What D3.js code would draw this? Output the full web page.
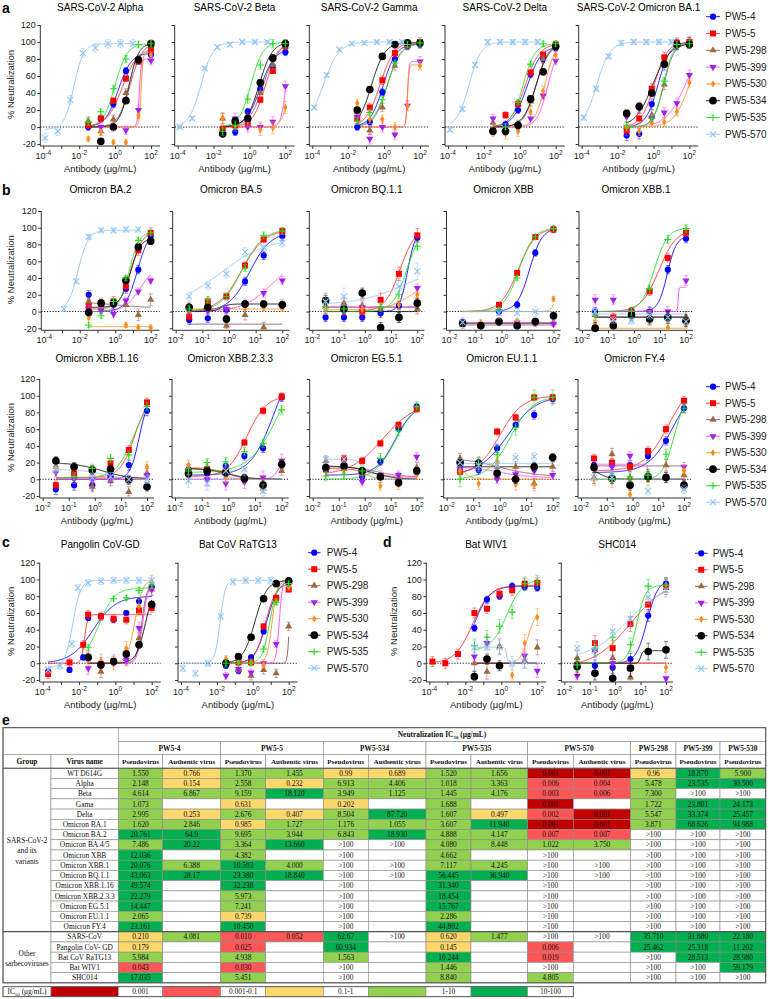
<!DOCTYPE html>
<html>
<head>
<meta charset="utf-8">
<script src="https://d3js.org/d3.v7.min.js"></script>
<style>
  body { margin: 0; background: #fff; }
  svg { font-family: "Liberation Sans", Arial, sans-serif; }
</style>
</head>
<body>
<svg id="fig" width="769" height="999"></svg>
<script>
// ---------- data ----------
var antibodies = ["PW5-4", "PW5-5", "PW5-298", "PW5-399", "PW5-530", "PW5-534", "PW5-535", "PW5-570"];
var conc = [0.032, 0.16, 0.8, 4, 20, 100];
var concLow = [0.000128, 0.00064, 0.0032, 0.016, 0.08, 0.4, 2, 10];
var concBA2 = [0.00128, 0.0064, 0.032, 0.16, 0.8, 4, 20];
var concPang = [0.0002, 0.003, 0.017, 0.032, 0.16, 0.8, 4, 20, 100];
var concPang570 = [0.0002, 0.0009, 0.004, 0.0085, 0.032, 0.16, 0.8, 4, 20, 100];
var concWIV1 = [0.00015, 0.00078, 0.0039, 0.032, 0.16, 0.8, 4, 20, 100];

// y values (% neutralization), one row per antibody in the order above
// fit rows: [IC50, hill, bottom, top]
var alphaY = [[0, 10, 27, 66, 78, 85], [2, 10, 31, 57, 77, 91], [7, -5, 9, 40, 80, 97], [null, 0, 0, -4, 20, 78],
  [-14, -6, -18, -18, 13, 85], [null, -17, 0, 31, 79, 98], [6, 18, 45, 80, 97, 98], [-13, -5, 32, 87, 93, 98, 98, 98]];
var alphaFit = [[1.5, 1.2, 0, 87], [2.5, 1, 0, 93], [6.9, 1.3, 0, 99], [22, 8, 0, 80], [28, 8, 0, 88], [6, 1.6, 0, 99], [1, 1.3, 0, 98], [0.005, 1.6, -3, 98]];
var alphaErr = [4, 3, 5, 5, 3, 3, 4, 5];

var betaY = [[-7, -6, 18, 45, 71, 88], [-2, 2, 6, 32, 66, 95], [10, 6, 11, 40, 73, 97], [null, 10, 0, 0, 6, 48],
  [10, 2, 7, -3, -1, 23], [-8, 7, 10, 52, 81, 98], [-5, 2, 33, 73, 98, 98], [0, 10, 69, 94, 97, 100, 100, 100]];
var betaFit = [[4, 1.1, 0, 92], [8, 1.2, 0, 100], [6, 1.1, 0, 100], [110, 3, 0, 100], [150, 2, 0, 70], [3.5, 1.2, 0, 100], [1.2, 1.3, 0, 100], [0.002, 1.3, 0, 100]];
var betaErr = [4, 3, 6, 6, 7, 4, 5, 2];

var gammaY = [[0, 6, 41, 80, 95, 97], [10, 23, 55, 87, 97, 100], [18, -4, 23, 72, 96, 98], [12, -14, 0, -9, 25, 77],
  [28, 9, 9, 0, 25, 72], [20, 44, 83, 97, 99, 99], [7, 17, 32, 75, 97, 99], [23, 61, 91, 98, 99, 100, 100, 100]];
var gammaFit = [[0.9, 1.2, 0, 98], [0.6, 1.1, 0, 100], [1.5, 1.2, 0, 98], [20, 10, 0, 77], [20, 10, 0, 73], [0.2, 1.2, 0, 99], [1.5, 1.1, 0, 99], [0.00042, 1, 0, 100]];
var gammaErr = [4, 5, 5, 6, 5, 3, 4, 2];

var deltaY = [[-5, 3, 20, 62, 80, 93], [-5, 14, 27, 64, 85, 97], [5, -5, 3, 30, 80, 96], [10, -1, -1, 10, 37, 78],
  [-5, -8, -5, 18, 42, 85], [-5, -5, 2, 33, 65, 95], [null, 0, 29, 74, 98, 98], [-3, 21, 73, 100, 100, 100, 100, 100]];
var deltaFit = [[2.5, 1.1, 0, 95], [2, 1.1, 0, 98], [8, 1.3, 0, 98], [35, 1.5, 0, 95], [25, 1.5, 0, 100], [8, 1.2, 0, 98], [1.5, 1.3, 0, 98], [0.0015, 1.3, 0, 100]];
var deltaErr = [4, 4, 5, 5, 6, 4, 3, 3];

var ba1Y = [[-10, -8, 27, 73, 97, 99], [-4, 10, 45, 82, 99, 100], [0, 23, 14, 50, 97, 99], [12, 22, 10, 17, 28, 61],
  [0, -5, 5, 6, 18, 52], [16, 24, 40, 74, 97, 97], [2, null, 10, 54, 97, 98], [11, 45, 83, 99, 100, 100, 100, 100]];
var ba1Fit = [[1.8, 1.3, 0, 100], [1.1, 1.2, 0, 100], [3.7, 1.5, 0, 99], [60, 0.8, 0, 100], [100, 1, 0, 100], [0.9, 0.9, 0, 99], [3.5, 1.6, 0, 99], [0.0007, 1.2, 0, 100]];
var ba1Err = [6, 6, 6, 6, 5, 4, 4, 3];

var ba2Y = [[20, 8, 8, 27, 50, 90], [7, 10, 12, 30, 73, 94], [12, 5, 9, 8, -4, 14], [3, 1, -3, 13, 24, 37],
  [-7, null, null, -16, -19, -19], [-1, 10, 10, 37, 77, 84], [-16, -5, 12, 40, 85, 94], [3, 36, 89, 97, 97, 98, 98]];
var ba2Fit = [[18, 1.3, 0, 98], [8, 1.3, 3, 97], [1, 0.4, 12, 4], [25, 1, 0, 55], [1, 1, -18, -18], [7, 1.5, 5, 88], [6, 1.5, 0, 96], [0.008, 1.5, 0, 97]];
var ba2Err = [5, 6, 7, 4, 3, 4, 3, 3];

var ba5Y = [[-10, -8, 2, 36, 67, 90], [-6, 12, 18, 55, 86, 96], [5, 5, -17, -4, -19, 8], [1, 1, 3, 10, 22, 37],
  [4, 5, -9, 5, 5, 4], [5, 5, -9, 9, 9, 8], [3, 14, 18, 52, 91, 96], [18, 31, 45, 71, 77, 82]];
var ba5Fit = [[6, 1.1, 0, 95], [3, 1, 0, 98], [1, 1, -15, -15], [40, 0.8, 0, 65], [1, 1, 3, 3], [0.5, 3, 0, 9], [3, 1.1, 0, 98], [0.5, 0.5, 5, 88]];
var ba5Err = [5, 4, 6, 5, 4, 4, 4, 5];

var bq11Y = [[-7, -7, -7, -2, 7, 88], [13, 3, 0, 14, 45, 91], [6, 10, 7, 3, -7, 3], [10, 5, 5, null, null, 28],
  [2, 5, 3, null, 8, 20], [13, 3, 22, -19, -7, 10], [6, 3, null, 5, 20, 78], [12, 18, null, null, 30, 48]];
var bq11Fit = [[42, 3, 0, 95], [22, 1.5, 0, 100], [1, 1, 5, 5], [1, 1, 6, 6], [50, 1, 2, 35], [1, 1, 0, 0], [40, 1.6, 0, 100], [30, 0.5, 8, 55]];
var bq11Err = [5, 8, 6, 5, 5, 6, 5, 10];

var xbbY = [[-13, -17, 0, 8, 70, 98], [null, null, 8, 46, 89, 98], [-16, -17, -12, -14, -14, -13], [-13, -17, -13, -13, -13, -15],
  [-15, -13, -12, -12, -12, 15], [-14, -17, -12, -17, -12, -5], [null, null, 2, 40, 89, 99], [-13, null, -2, -2, 0, null]];
var xbbFit = [[12, 1.8, 0, 100], [4.4, 1.3, 0, 100], [1, 1, -16, -16], [1, 1, -13, -13], [180, 4, 0, 100], [1, 1, -14, -14], [4.7, 1.5, 0, 100], [1, 1, 0, 0]];
var xbbErr = [4, 3, 4, 3, 3, 4, 3, 6];

var xbb1Y = [[0, -15, -1, 0, 50, 87], [-20, -7, 0, 24, 64, 94], [-4, -15, -3, -7, -5, -7], [14, 14, -1, 0, 0, 37],
  [-15, -17, -3, -4, -19, -15], [-20, -17, -4, -9, -7, -11], [-3, null, 0, 27, 86, 99], [0, -10, -11, -5, -7, -12]];
var xbb1Fit = [[19, 2.5, 0, 90], [9, 1.3, 0, 98], [1, 1, -6, -6], [50, 30, 0, 29], [1, 1, -20, -20], [1, 1, -7, -7], [6, 1.7, 0, 100], [1, 1, -3, -3]];
var xbb1Err = [5, 5, 7, 6, 5, 7, 5, 4];

var xbb116Y = [[-12, -7, -7, 4, 17, 82], [-7, 7, 11, 19, 35, 92], [15, null, -9, -2, -15, 7], [8, 0, 0, 0, 0, 5],
  [13, null, null, null, null, 15], [22, 15, 11, 12, -1, -9], [null, 3, 13, 25, 29, 87], [12, null, 2, 3, 0, 0]];
var xbb116Fit = [[50, 2.5, 0, 100], [35, 1.5, 2, 105], [1, 1, 0, 0], [1, 1, 0, 0], [1, 1, 2, 2], [2, 0.8, 20, 0], [30, 1.3, 2, 100], [2, 1, 12, 0]];
var xbb116Err = [6, 5, 6, 5, 6, 5, 5, 5];

var xbb233Y = [[12, 7, 16, 28, 37, 98], [7, 12, 10, 44, 82, 99], [13, 13, 7, 1, -11, 10], [5, 0, -5, -3, 2, 22],
  [17, 13, 2, 0, -6, 19], [7, 10, 8, 1, -7, 18], [10, 20, 21, 33, 43, 83], [-2, -5, 10, 12, -14, null]];
var xbb233Fit = [[50, 1, 5, 150], [5, 1.2, 3, 100], [1, 1.5, 13, 0], [100, 3, 0, 40], [0.5, 2, 14, 0], [1, 1, 13, 0], [80, 0.8, 8, 150], [1, 1, 0, 0]];
var xbb233Err = [5, 4, 5, 8, 6, 5, 5, 8];

var eg51Y = [[14, 17, 3, 21, 61, 87], [12, 25, 22, 43, 65, 84], [22, 12, 7, 2, 2, 14], [10, 13, -3, 5, 5, 27],
  [13, 11, 9, -8, -7, 5], [14, 16, 10, 3, -4, 10], [4, 6, 10, 25, 58, 87], [24, 24, null, null, null, null]];
var eg51Fit = [[15, 1.2, 5, 90], [5, 0.7, 5, 92], [3, 1, 15, 3], [2, 1, 13, 2], [1, 2, 13, 0], [2, 1, 16, 0], [15, 1.1, 0, 92], [1, 3, 24, 0]];
var eg51Err = [4, 4, 6, 5, 5, 4, 6, 4];

var eu11Y = [[17, 11, 37, 65, 77, 96], [9, 18, 57, 74, 98, 98], [25, 20, 15, 15, -5, 15], [12, 15, 0, 6, 10, 5],
  [10, -5, 22, -6, -7, null], [20, 19, 7, 0, 15, 26], [0, 18, 30, 62, 98, 98], [20, 17, 17, 26, 27, null]];
var eu11Fit = [[2, 0.8, 5, 100], [1, 1, 5, 100], [1, 0.6, 26, 3], [1, 0.8, 15, 2], [0.05, 3, 15, 0], [1, 1, 15, 15], [2.5, 1, 0, 100], [1, 1, 19, 19]];
var eu11Err = [5, 4, 6, 5, 7, 5, 9, 5];

var fy4Y = [[17, 17, 17, 28, 46, 85], [25, 20, 15, 34, 60, 94], [2, 30, 2, 5, 17, 5], [15, 15, 28, 3, 3, 15],
  [0, -3, -18, 0, 3, 10], [14, 1, -7, 3, 2, -7], [null, 1, 3, 5, 30, 85], [2, 2, null, -14, null, -12]];
var fy4Fit = [[40, 0.9, 8, 120], [25, 0.9, 10, 120], [1, 1, 16, 16], [4, 20, 18, 0], [1, 1, 0, 0], [0.05, 2, 14, 0], [40, 2, 0, 100], [1, 1, 0, 0]];
var fy4Err = [5, 5, 7, 5, 7, 6, 6, 5];

var pangY = [[-10, -8, 7, 54, 56, 52, 60, 74, 91], [-13, 1, 22, 58, 56, 53, 52, 63, 66], [8, -10, null, 5, 30, 88], [-6, 0, 3, 4, 42, 88],
  [5, 3, 0, 18, 68, 97], [7, -2, 2, 11, 22, 70], [19, null, 77, 78, 87, 93], [-8, -3, 23, 90, 96, 98, 99, 99, 99, 99]];
var pangFit = [[0.06, 0.7, 0, 80], [0.02, 5, 0, 58], [28, 3, 0, 95], [32, 3, 0, 95], [12, 2, 0, 100], [45, 1.7, 0, 95], [0.12, 1, 0, 90], [0.0045, 2, -5, 99]];
var pangErr = [3, 5, 7, 7, 8, 4, 3, 4];

var ratY = [[-3, -9, 7, 38, 78, 99], [0, 1, 1, 44, 78, 88], [0, -8, -15, -8, -12, 44], [-15, -7, -11, 0, 23, 93],
  [5, 2, 1, -2, 73, 91], [0, 8, 31, 77, 95, 98], [0, 0, 0, 17, 73, 95], [-6, -12, 0, 56, 97, 99, 99, 99]];
var ratFit = [[6, 1.3, 0, 100], [5, 1.5, 0, 95], [110, 8, 0, 100], [30, 5, 0, 100], [12, 3, 0, 100], [1.3, 1.3, 0, 99], [9, 2, 0, 100], [0.015, 3, 0, 99]];
var ratErr = [3, 3, 5, 4, 4, 3, 3, 4];

var wivY = [[42, 76, 80, 92, 91, 90], [2, 0, 11, 60, 65, 83, 87, 95, 96], [0, -10, 20, null, 3, 19], [8, 24, null, null, 9, -9],
  [null, null, null, -14, 24, 55], [-16, 5, -3, null, null, null], [21, 31, 44, 61, 95, 97], [19, 19, 19, 0, 2, null]];
var wivFit = [[0.03, 1, 0, 92], [0.025, 0.9, 0, 93], [1, 1, 0, 0], [1, 1, 0, 0], [30, 2, 0, 62], [1, 1, 0, 0], [2, 1, 15, 100], [2, 10, 19, 0]];
var wivErr = [4, 6, 9, 8, 10, 6, 8, 8];

var shcY = [[-1, -3, -5, 5, 57, 95], [-2, 24, 18, 47, 70, 91], [6, 16, 6, -17, null, null], [-15, 15, 0, -5, null, -18],
  [null, null, null, null, null, -5], [-4, -12, -18, -6, 14, 16], [-2, 18, 31, 22, 92, 93], [18, 15, 38, 53, 79, 87]];
var shcFit = [[18, 2, 0, 100], [4, 0.6, -5, 100], [1, 1, 0, 0], [1, 1, 0, 0], [1, 1, 0, 0], [10, 10, 0, 15], [7, 2.5, 0, 93], [3, 0.6, 5, 95]];
var shcErr = [7, 9, 9, 7, 5, 10, 8, 8];

var yTicks = [-20, 0, 20, 40, 60, 80, 100, 120];

// ---------- table data ----------
var virusNames = ["WT D614G", "Alpha", "Beta", "Gama", "Delta", "Omicron BA.1", "Omicron BA.2", "Omicron BA.4/5", "Omicron XBB",
  "Omicron XBB.1", "Omicron BQ.1.1", "Omicron XBB.1.16", "Omicron XBB.2.3.3", "Omicron EG.5.1", "Omicron EU.1.1", "Omicron FY.4",
  "SARS-CoV", "Pangolin CoV- GD", "Bat CoV RaTG13", "Bat WIV1", "SHC014"];
var pw54Pseudo = ["1.550", "2.148", "4.614", "1.073", "2.995", "1.620", "20.761", "7.486", "12.036", "20.076", "43.063", "49.574", "22.279", "14.447", "2.065", "23.161", "0.210", "0.179", "5.984", "0.043", "17.035"];
var pw54Auth = ["0.766", "0.154", "6.867", "", "0.253", "2.846", "64.9", "20.22", "", "6.388", "28.17", "", "", "", "", "", "4.081", "", "", "", ""];
var pw55Pseudo = ["1.370", "2.558", "9.159", "0.631", "2.676", "0.985", "9.695", "3.364", "4.382", "10.593", "23.380", "32.238", "5.973", "7.241", "0.739", "10.450", "0.010", "0.025", "4.938", "0.030", "5.451"];
var pw55Auth = ["1.455", "0.232", "18.120", "", "0.407", "1.727", "3.944", "13.660", "", "4.000", "18.840", "", "", "", "", "", "0.052", "", "", "", ""];
var pw5534Pseudo = ["0.99", "6.913", "3.949", "0.202", "8.504", "1.176", "6.843", ">100", ">100", ">100", ">100", ">100", ">100", ">100", ">100", ">100", "62.67", "60.934", "1.563", ">100", ">100"];
var pw5534Auth = ["0.689", "4.406", "1.125", "", "87.720", "1.055", "18.930", ">100", "", ">100", ">100", "", "", "", "", "", ">100", "", "", "", ""];
var pw5535Pseudo = ["1.520", "1.018", "1.445", "1.688", "1.607", "3.607", "4.888", "4.080", "4.662", "7.117", "56.445", "31.340", "18.454", "15.767", "2.286", "44.802", "0.620", "0.145", "10.244", "1.446", "8.840"];
var pw5535Auth = ["1.656", "3.363", "4.176", "", "0.497", "11.940", "4.147", "8.448", "", "4.245", "36.940", "", "", "", "", "", "1.477", "", "", "", ""];
var pw5570Pseudo = ["0.001", "0.006", "0.003", "0.001", "0.002", "0.001", "0.007", "1.022", ">100", ">100", ">100", ">100", ">100", ">100", ">100", ">100", ">100", "0.006", "0.019", ">100", "4.805"];
var pw5570Auth = ["0.001", "0.004", "0.006", "", "0.001", "0.001", "0.007", "3.750", "", ">100", ">100", "", "", "", "", "", ">100", "", "", "", ""];
var pw5298Pseudo = ["0.96", "5.478", "7.300", "1.722", "5.547", "3.871", ">100", ">100", ">100", ">100", ">100", ">100", ">100", ">100", ">100", ">100", "35.710", "25.462", ">100", ">100", ">100"];
var pw5399Pseudo = ["18.870", "23.535", ">100", "23.801", "33.374", "68.626", ">100", ">100", ">100", ">100", ">100", ">100", ">100", ">100", ">100", ">100", "31.680", "25.318", "28.513", ">100", ">100"];
var pw5530Pseudo = ["5.900", "30.500", ">100", "24.173", "25.457", "94.988", ">100", ">100", ">100", ">100", ">100", ">100", ">100", ">100", ">100", ">100", "22.180", "11.202", "28.980", "59.179", ">100"];
var tableAntibodies = ["PW5-4", "PW5-5", "PW5-534", "PW5-535", "PW5-570", "PW5-298", "PW5-399", "PW5-530"];
var legendRanges = ["0.001", "0.001-0.1", "0.1-1", "1-10", "10-100"];

// ---------- drawing ----------
var svg = d3.select("#fig");
var markColor = ["#0000ff", "#ff0000", "#9b6b3f", "#a020f0", "#ff8c1a", "#000000", "#1fdc1f", "#8fc3f3"];
var lineColor = ["#0000ff", "#ff2a2a", "#8a5060", "#ff44ff", "#ff8c1a", "#000000", "#22dd22", "#8fc3f3"];

function drawMarker(g, i, cx, cy) {
  var t = "translate(" + cx + "," + cy + ")";
  if (i === 6) {
    g.append("path").attr("d", "M-3.5,0H3.5M0,-3.5V3.5").attr("transform", t).attr("stroke", markColor[i]).attr("stroke-width", 1.1);
  } else if (i === 7) {
    g.append("path").attr("d", "M-3,-3L3,3M-3,3L3,-3").attr("transform", t).attr("stroke", markColor[i]).attr("stroke-width", 1.1);
  } else {
    var types = [d3.symbolCircle, d3.symbolSquare, d3.symbolTriangle, d3.symbolTriangle, d3.symbolDiamond, d3.symbolCircle];
    var sizes = [30, 36, 22, 22, 16, 46];
    g.append("path").attr("d", d3.symbol().type(types[i]).size(sizes[i]))
      .attr("transform", t + (i === 3 ? " rotate(180)" : ""))
      .attr("fill", markColor[i]);
  }
}

var rowGeom = {
  a: { yt: 25, yb: 144, title: 11, xtitle: true },
  b1: { yt: 211, yb: 328.3, title: 192.5, xtitle: false },
  b2: { yt: 379, yb: 496, title: 362, xtitle: true },
  c: { yt: 562.7, yb: 680, title: 547.5, xtitle: true }
};

function fitY(f, xv) {
  return f[2] + (f[3] - f[2]) / (1 + Math.pow(f[0] / xv, f[1]));
}

function drawPanel(p) {
  var r = rowGeom[p.row];
  var x = d3.scaleLog().domain([Math.pow(10, p.lo), 100]).range([p.x0, p.x1]);
  var y = d3.scaleLinear().domain([-20, 120]).range([r.yb, r.yt]);
  var axL = p.x0 - 3, axR = p.x1 + (p.lo === -4 ? 9 : 7), axB = r.yb + 2;
  var g = svg.append("g");

  g.append("text").attr("x", (axL + axR) / 2).attr("y", r.title).attr("text-anchor", "middle")
    .attr("font-size", 10).text(p.t);

  // y axis
  var ga = g.append("g").attr("transform", "translate(" + axL + ",0)")
    .call(d3.axisLeft(y).tickValues(yTicks).tickSize(3).tickSizeOuter(0)
      .tickFormat(p.first ? function (d) { return String(d); } : ""));
  ga.select(".domain").remove();
  ga.selectAll("line").attr("stroke", "#333");
  ga.selectAll("text").attr("font-size", 9).attr("font-family", null).attr("fill", "#222").attr("x", -4.5);
  g.append("line").attr("x1", axL).attr("x2", axL).attr("y1", r.yt).attr("y2", axB).attr("stroke", "#333");

  // x axis
  var decs = d3.range(p.lo, 3);
  var gx = g.append("g").attr("transform", "translate(0," + axB + ")")
    .call(d3.axisBottom(x).tickValues(decs.map(function (k) { return Math.pow(10, k); })).tickSize(3).tickSizeOuter(0).tickFormat(""));
  gx.select(".domain").remove();
  gx.selectAll("line").attr("stroke", "#333");
  g.append("line").attr("x1", axL).attr("x2", axR).attr("y1", axB).attr("y2", axB).attr("stroke", "#333");
  decs.forEach(function (k) {
    if (p.lo === -4 && k % 2 !== 0) return;
    var tx = g.append("text").attr("x", x(Math.pow(10, k))).attr("y", r.yb + 15).attr("text-anchor", "middle")
      .attr("font-size", 9).attr("fill", "#222");
    tx.append("tspan").text("10");
    tx.append("tspan").attr("dy", -4).attr("font-size", 6.5).text(String(k));
  });
  if (r.xtitle) {
    g.append("text").attr("x", (axL + axR) / 2).attr("y", r.yb + 28).attr("text-anchor", "middle")
      .attr("font-size", 9.5).attr("fill", "#222").text("Antibody (\u03bcg/mL)");
  }

  // zero line
  g.append("line").attr("x1", axL).attr("x2", axR).attr("y1", y(0)).attr("y2", y(0))
    .attr("stroke", "#000").attr("stroke-width", 0.9).attr("stroke-dasharray", "1.2,1.6");

  var line = d3.line().x(function (d) { return x(d[0]); }).y(function (d) { return y(Math.max(-20, Math.min(120, d[1]))); });

  antibodies.forEach(function (ab, i) {
    var xs = (p.xs && p.xs[i]) || conc;
    var f = p.fit[i];
    var lx = d3.extent(xs).map(Math.log10);
    var samples = d3.range(0, 201).map(function (j) {
      var xv = Math.pow(10, lx[0] + (lx[1] - lx[0]) * j / 200);
      return [xv, fitY(f, xv)];
    });
    g.append("path").attr("d", line(samples)).attr("fill", "none")
      .attr("stroke", lineColor[i]).attr("stroke-width", 0.9);
  });

  antibodies.forEach(function (ab, i) {
    var xs = (p.xs && p.xs[i]) || conc;
    var e = p.err[i];
    var gs = g.append("g");
    p.ys[i].forEach(function (v, j) {
      if (v === null || v === undefined) return;
      var cx = x(xs[j]);
      var lo = y(Math.max(-20, v - e)), hi = y(Math.min(120, v + e));
      gs.append("path").attr("d", "M" + cx + "," + lo + "V" + hi + "M" + (cx - 2) + "," + lo + "H" + (cx + 2) + "M" + (cx - 2) + "," + hi + "H" + (cx + 2))
        .attr("stroke", lineColor[i]).attr("stroke-opacity", 0.55).attr("stroke-width", 0.9).attr("fill", "none");
    });
    p.ys[i].forEach(function (v, j) {
      if (v === null || v === undefined) return;
      drawMarker(gs, i, x(xs[j]), y(v));
    });
  });
}

var low570 = { 7: concLow };
var panels = [
  { t: "SARS-CoV-2 Alpha", ys: alphaY, fit: alphaFit, err: alphaErr, xs: low570, row: "a", x0: 43.3, x1: 151, lo: -4, first: true },
  { t: "SARS-CoV-2 Beta", ys: betaY, fit: betaFit, err: betaErr, xs: low570, row: "a", x0: 177.7, x1: 285.4, lo: -4 },
  { t: "SARS-CoV-2 Gamma", ys: gammaY, fit: gammaFit, err: gammaErr, xs: low570, row: "a", x0: 312.3, x1: 420, lo: -4 },
  { t: "SARS-CoV-2 Delta", ys: deltaY, fit: deltaFit, err: deltaErr, xs: low570, row: "a", x0: 448, x1: 555.7, lo: -4 },
  { t: "SARS-CoV-2 Omicron BA.1", ys: ba1Y, fit: ba1Fit, err: ba1Err, xs: low570, row: "a", x0: 581.7, x1: 689.4, lo: -4 },

  { t: "Omicron BA.2", ys: ba2Y, fit: ba2Fit, err: ba2Err, xs: { 7: concBA2 }, row: "b1", x0: 44.3, x1: 150.7, lo: -4, first: true },
  { t: "Omicron BA.5", ys: ba5Y, fit: ba5Fit, err: ba5Err, row: "b1", x0: 175.7, x1: 282.3, lo: -2 },
  { t: "Omicron BQ.1.1", ys: bq11Y, fit: bq11Fit, err: bq11Err, row: "b1", x0: 312.3, x1: 417.3, lo: -2 },
  { t: "Omicron XBB", ys: xbbY, fit: xbbFit, err: xbbErr, row: "b1", x0: 449.5, x1: 553.5, lo: -2 },
  { t: "Omicron XBB.1", ys: xbb1Y, fit: xbb1Fit, err: xbb1Err, row: "b1", x0: 582, x1: 686, lo: -2 },

  { t: "Omicron XBB.1.16", ys: xbb116Y, fit: xbb116Fit, err: xbb116Err, row: "b2", x0: 42.7, x1: 147, lo: -2, first: true },
  { t: "Omicron XBB.2.3.3", ys: xbb233Y, fit: xbb233Fit, err: xbb233Err, row: "b2", x0: 175, x1: 281.7, lo: -2 },
  { t: "Omicron EG.5.1", ys: eg51Y, fit: eg51Fit, err: eg51Err, row: "b2", x0: 312.7, x1: 416.7, lo: -2 },
  { t: "Omicron EU.1.1", ys: eu11Y, fit: eu11Fit, err: eu11Err, row: "b2", x0: 446.7, x1: 552.7, lo: -2 },
  { t: "Omicron FY.4", ys: fy4Y, fit: fy4Fit, err: fy4Err, row: "b2", x0: 581, x1: 684, lo: -2 },

  { t: "Pangolin CoV-GD", ys: pangY, fit: pangFit, err: pangErr, xs: { 0: concPang, 1: concPang, 7: concPang570 }, row: "c", x0: 42.7, x1: 151.7, lo: -4, first: true },
  { t: "Bat CoV RaTG13", ys: ratY, fit: ratFit, err: ratErr, xs: low570, row: "c", x0: 181, x1: 288.7, lo: -4 },
  { t: "Bat WIV1", ys: wivY, fit: wivFit, err: wivErr, xs: { 1: concWIV1 }, row: "c", x0: 429.3, x1: 537.3, lo: -4, first: true },
  { t: "SHC014", ys: shcY, fit: shcFit, err: shcErr, row: "c", x0: 564.3, x1: 666, lo: -2 }
];
panels.forEach(drawPanel);

// y axis titles
[[13.5, 84.5], [13.5, 269.7], [13.5, 437.5], [13.5, 621.4], [396.5, 621.4]].forEach(function (d) {
  svg.append("text").attr("transform", "translate(" + d[0] + "," + d[1] + ") rotate(-90)")
    .attr("text-anchor", "middle").attr("font-size", 9.5).attr("fill", "#222").text("% Neutralization");
});

// panel letters
[["a", 2, 13], ["b", 2, 195], ["c", 2, 547], ["d", 383, 547], ["e", 2, 725]].forEach(function (d) {
  svg.append("text").attr("x", d[1]).attr("y", d[2]).attr("font-size", 14).attr("font-weight", "bold").text(d[0]);
});

// legends
function drawLegend(lx1, lx2, tx, y0, dy) {
  antibodies.forEach(function (ab, i) {
    var yy = y0 + dy * i;
    var g = svg.append("g");
    g.append("line").attr("x1", lx1).attr("x2", lx2).attr("y1", yy).attr("y2", yy).attr("stroke", lineColor[i]).attr("stroke-width", 0.9);
    drawMarker(g, i, (lx1 + lx2) / 2, yy);
    g.append("text").attr("x", tx).attr("y", yy + 3.5).attr("font-size", 10).attr("fill", "#222").text(ab);
  });
}
drawLegend(706, 720, 725, 16.7, 16.8);
drawLegend(706, 720, 725, 386.7, 16.5);
drawLegend(308, 320.5, 326.7, 552.7, 16.5);
drawLegend(695, 707.5, 712.7, 553.3, 16.5);

// ---------- table ----------
var tableCols = [pw54Pseudo, pw54Auth, pw55Pseudo, pw55Auth, pw5534Pseudo, pw5534Auth, pw5535Pseudo, pw5535Auth,
  pw5570Pseudo, pw5570Auth, pw5298Pseudo, pw5399Pseudo, pw5530Pseudo];
var cx = [3, 51, 118.3, 162.7, 220.7, 265.7, 323.3, 368.3, 426, 471, 527.7, 573.3, 630.7, 676, 720, 765.7];
var tTop = 727.7, h1 = 741.7, h2 = 754.3, h3 = 768.2, rowH = 10.22;
var tb = svg.append("g").attr("font-family", "'Liberation Serif', 'Times New Roman', serif");
var fills = ["#c00000", "#ff5757", "#fbd86c", "#92d050", "#00b050"];

function cellFill(s) {
  if (!s || s.charAt(0) === ">") return "#ffffff";
  var v = +s;
  if (v <= 0.001) return fills[0];
  if (v < 0.1) return fills[1];
  if (v < 1) return fills[2];
  if (v < 10) return fills[3];
  return fills[4];
}
function cell(x1, y1, x2, y2, fill) {
  tb.append("rect").attr("x", x1).attr("y", y1).attr("width", x2 - x1).attr("height", y2 - y1)
    .attr("fill", fill || "#fff").attr("stroke", "#8a8a8a").attr("stroke-width", 0.6);
}
function ctext(x, yc, s, bold, size) {
  return tb.append("text").attr("x", x).attr("y", yc + 2.6).attr("text-anchor", "middle")
    .attr("font-size", size || 7.4).attr("font-weight", bold ? "bold" : null).attr("fill", "#111").text(s);
}

// header
cell(cx[0], tTop, cx[2], h2);
cell(cx[2], tTop, cx[15], h1);
var hdr = ctext((cx[2] + cx[15]) / 2, (tTop + h1) / 2, "", true);
hdr.append("tspan").text("Neutralization IC");
hdr.append("tspan").attr("font-size", 5).attr("dy", 1.5).text("50");
hdr.append("tspan").attr("dy", -1.5).text(" (\u03bcg/mL)");
var spans = [[2, 4], [4, 6], [6, 8], [8, 10], [10, 12], [12, 13], [13, 14], [14, 15]];
tableAntibodies.forEach(function (ab, i) {
  var s = spans[i];
  cell(cx[s[0]], h1, cx[s[1]], h2);
  ctext((cx[s[0]] + cx[s[1]]) / 2, (h1 + h2) / 2, ab, true);
});
cell(cx[0], h2, cx[1], h3); ctext((cx[0] + cx[1]) / 2, (h2 + h3) / 2, "Group", true);
cell(cx[1], h2, cx[2], h3); ctext((cx[1] + cx[2]) / 2, (h2 + h3) / 2, "Virus name", true);
for (var c = 0; c < 13; c++) {
  var sub = (c < 10 && c % 2 === 1) ? "Authentic virus" : "Pseudovirus";
  cell(cx[c + 2], h2, cx[c + 3], h3);
  ctext((cx[c + 2] + cx[c + 3]) / 2, (h2 + h3) / 2, sub, true, 7.1);
}

// group cells
var split = h3 + 16 * rowH, tBottom = h3 + 21 * rowH;
cell(cx[0], h3, cx[1], split);
cell(cx[0], split, cx[1], tBottom);
[["SARS-CoV-2", 840], ["and its", 850.5], ["variants", 861], ["Other", 953], ["sarbecoviruses", 963]].forEach(function (d) {
  ctext((cx[0] + cx[1]) / 2, d[1], d[0], false, 7.4);
});

// body
virusNames.forEach(function (name, r) {
  var y1 = h3 + r * rowH, y2 = y1 + rowH, yc = y1 + rowH / 2;
  cell(cx[1], y1, cx[2], y2);
  ctext((cx[1] + cx[2]) / 2, yc, name);
  tableCols.forEach(function (col, c) {
    cell(cx[c + 2], y1, cx[c + 3], y2, cellFill(col[r]));
    if (col[r]) ctext((cx[c + 2] + cx[c + 3]) / 2, yc, col[r]);
  });
});
tb.append("line").attr("x1", cx[0]).attr("x2", cx[15]).attr("y1", h3).attr("y2", h3).attr("stroke", "#555").attr("stroke-width", 1.1);
tb.append("line").attr("x1", cx[0]).attr("x2", cx[15]).attr("y1", split).attr("y2", split).attr("stroke", "#555").attr("stroke-width", 1.3);
tb.append("rect").attr("x", cx[0]).attr("y", tTop).attr("width", cx[15] - cx[0]).attr("height", tBottom - tTop)
  .attr("fill", "none").attr("stroke", "#555").attr("stroke-width", 1.1);

// colour key row
var ky1 = 986.7, ky2 = 996.7, kyc = (ky1 + ky2) / 2;
cell(cx[0], ky1, cx[1], ky2);
var kt = ctext((cx[0] + cx[1]) / 2, kyc, "", false);
kt.append("tspan").text("IC");
kt.append("tspan").attr("font-size", 5).attr("dy", 1.5).text("50");
kt.append("tspan").attr("dy", -1.5).text(" (\u03bcg/mL)");
legendRanges.forEach(function (lab, i) {
  var a = 1 + i * 2;
  cell(cx[a], ky1, cx[a + 1], ky2, fills[i]);
  cell(cx[a + 1], ky1, cx[a + 2], ky2);
  ctext((cx[a + 1] + cx[a + 2]) / 2, kyc, lab);
});
tb.append("rect").attr("x", cx[0]).attr("y", ky1).attr("width", cx[11] - cx[0]).attr("height", ky2 - ky1)
  .attr("fill", "none").attr("stroke", "#555").attr("stroke-width", 0.9);
</script>
</body>
</html>
